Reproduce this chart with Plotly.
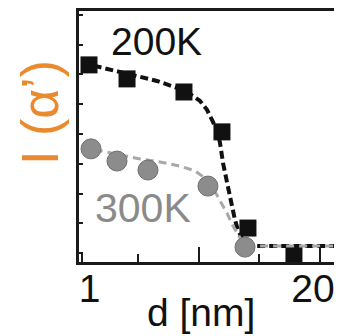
import plotly.graph_objects as go

# ---- data (d in nm, intensity in arbitrary units) ----
d_200K = [0.957, 4.19, 9.03, 12.26, 14.47, 18.38]
I_200K = [6.32, 5.85, 5.41, 4.07, 0.84, -0.07]

d_300K = [1.13, 3.34, 5.97, 11.07, 14.22]
I_300K = [3.50, 3.09, 2.79, 2.25, 0.20]

fit_d_200K = [0.362, 1.893, 3.593, 5.293, 6.738, 8.439, 9.544, 10.394, 10.989, 11.414,
              11.839, 12.094, 12.349, 12.774, 13.114, 13.369, 13.625, 14.050, 14.645, 15.070, 22.38]
fit_I_200K = [6.39, 6.25, 6.08, 5.92, 5.78, 5.55, 5.34, 5.11, 4.81, 4.47,
              4.13, 3.70, 3.03, 2.22, 1.55, 1.11, 0.77, 0.44, 0.27, 0.24, 0.24]

fit_d_300K = [0.362, 1.893, 3.593, 5.293, 6.993, 8.694, 9.969, 10.819, 11.499, 12.094,
              12.689, 13.199, 13.625, 14.050, 14.645, 22.38]
fit_I_300K = [3.56, 3.43, 3.29, 3.16, 3.06, 2.92, 2.76, 2.52, 2.18, 1.78,
              1.34, 0.91, 0.64, 0.34, 0.24, 0.24]

x_label_vals = [1, 20]
x_label_text = ["1", "20"]
x_major_ticks = [10.31, 20.59]
x_minor_ticks = [0.362, 5.12, 15.41]
y_ticks = [0, 1, 2, 3, 4, 5, 6, 7, 8]

X_RANGE = [0.107, 22.38]
Y_RANGE = [-0.30, 8.13]

FONT = "Liberation Sans, Arial, sans-serif"

# page body has a default 8px margin -> build figure 8px smaller and shifted
OFF = 8
W, H = 342 - OFF, 336 - OFF
L, R, T, B = 79 - OFF, 341 - OFF, 11 - OFF, 262 - OFF

fig = go.Figure()

fig.add_trace(go.Scatter(
    x=fit_d_200K, y=fit_I_200K, mode="lines",
    line=dict(color="#111111", width=4, dash="8px,4px"),
    showlegend=False, hoverinfo="skip"))
fig.add_trace(go.Scatter(
    x=d_200K, y=I_200K, mode="markers",
    marker=dict(symbol="square", size=17, color="#111111"),
    showlegend=False))
fig.add_trace(go.Scatter(
    x=fit_d_300K, y=fit_I_300K, mode="lines",
    line=dict(color="#a8a8a8", width=3, dash="8px,5px"),
    showlegend=False, hoverinfo="skip"))
fig.add_trace(go.Scatter(
    x=d_300K, y=I_300K, mode="markers",
    marker=dict(symbol="circle", size=20, color="#8c8c8c",
                line=dict(color="#6f6f6f", width=1)),
    showlegend=False))

# invisible trace to carry the secondary label axis
fig.add_trace(go.Scatter(x=X_RANGE, y=Y_RANGE, xaxis="x2", mode="markers",
                         marker=dict(opacity=0), showlegend=False, hoverinfo="skip"))

fig.update_layout(
    width=W, height=H,
    margin=dict(l=L, r=W - R, t=T, b=H - B, pad=0, autoexpand=False),
    paper_bgcolor="white", plot_bgcolor="white",
    font=dict(family=FONT, color="#111111"),
    xaxis=dict(
        range=X_RANGE, showgrid=False, zeroline=False, automargin=False,
        showline=True, linecolor="#1a1a1a", linewidth=3, mirror=True,
        tickmode="array", tickvals=x_major_ticks, showticklabels=False,
        ticks="inside", ticklen=15, tickwidth=2, tickcolor="#1a1a1a",
        minor=dict(tickmode="array", tickvals=x_minor_ticks, ticks="inside",
                   ticklen=8, tickwidth=2, tickcolor="#1a1a1a", showgrid=False),
    ),
    xaxis2=dict(
        range=X_RANGE, overlaying="x", side="bottom", matches="x", automargin=False,
        showgrid=False, zeroline=False, showline=False,
        tickmode="array", tickvals=x_label_vals, ticktext=x_label_text,
        ticks="", tickfont=dict(size=39, family=FONT, color="#111111"),
    ),
    yaxis=dict(
        range=Y_RANGE, showgrid=False, zeroline=False, automargin=False,
        showline=True, linecolor="#1a1a1a", linewidth=3, mirror=True,
        tickmode="array", tickvals=y_ticks, showticklabels=False,
        ticks="inside", ticklen=4, tickwidth=2, tickcolor="#1a1a1a",
    ),
    annotations=[
        dict(text="200K", x=156, y=41, font=dict(size=39, color="#111111", family=FONT)),
        dict(text="300K", x=143, y=208, font=dict(size=41, color="#8a8a8a", family=FONT)),
        dict(text="d [nm]", x=201, y=312, font=dict(size=39, color="#111111", family=FONT)),
        dict(text="I (α’)", x=40, y=113, textangle=-90,
             font=dict(size=52, color="#EA8A2E", family=FONT)),
    ],
)

# convert pixel-placed annotations (page pixels) to paper coordinates
for a in fig.layout.annotations:
    a.x = (a.x - OFF - L) / (R - L)
    a.y = (B - (a.y - OFF)) / (B - T)
    a.xref = "paper"
    a.yref = "paper"
    a.xanchor = "center"
    a.yanchor = "middle"
    a.showarrow = False

fig.write_html("out.html")
